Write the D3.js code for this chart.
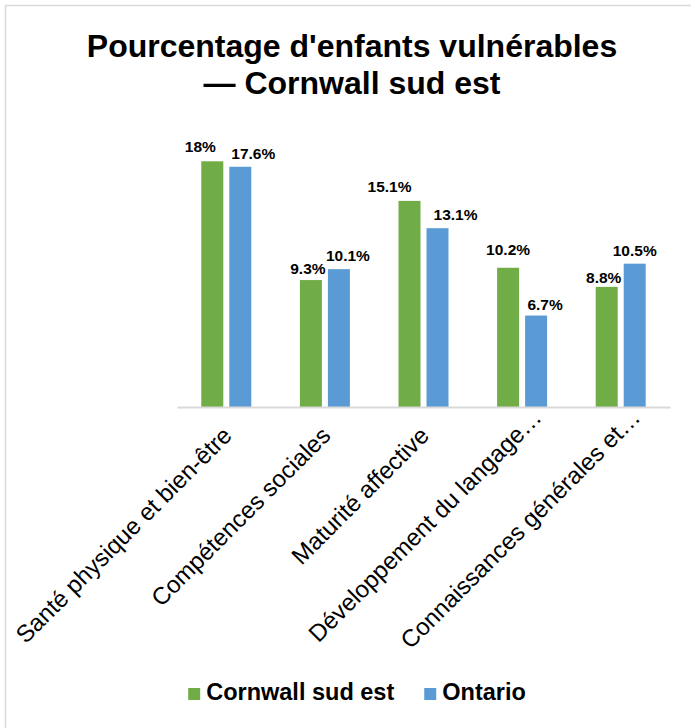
<!doctype html>
<html lang="fr">
<head>
  <meta charset="utf-8">
  <style>
    body { margin: 0; background: #fff; }
    text { font-family: "Liberation Sans", Arial, sans-serif; fill: #000; }
  </style>
</head>
<body>
  <div id="chart"></div>
  <script src="https://d3js.org/d3.v7.min.js"></script>
  <script>
    // Data
    var categories = [
      "Santé physique et bien-être",
      "Compétences sociales",
      "Maturité affective",
      "Développement du langage…",
      "Connaissances générales et…"
    ];
    var series = ["Cornwall sud est", "Ontario"];
    var cornwall = [18, 9.3, 15.1, 10.2, 8.8];
    var ontario = [17.6, 10.1, 13.1, 6.7, 10.5];
    var valueLabels = [
      ["18%", "9.3%", "15.1%", "10.2%", "8.8%"],
      ["17.6%", "10.1%", "13.1%", "6.7%", "10.5%"]
    ];
    // hand placed data labels (as in the original), nudges from centred
    var labelDx = [[-12, -3, -20, 0, -3], [13, 9, 18, 9, 0]];
    var labelGap = [[9, 6, 9, 13, 4], [8, 8, 8, 6, 8]];

    var colors = ["#70AD47", "#5B9BD5"];
    var values = [cornwall, ontario];

    var width = 691, height = 728;
    var svg = d3.select("#chart").append("svg")
      .attr("width", width)
      .attr("height", height);

    // chart frame
    svg.append("rect")
      .attr("x", 5.5).attr("y", 5.5)
      .attr("width", 720).attr("height", 760)
      .attr("fill", "none")
      .attr("stroke", "#d9d9d9")
      .attr("stroke-width", 1.5);

    // title
    var title = svg.append("text")
      .attr("text-anchor", "middle")
      .style("font-size", "32px")
      .style("font-weight", "bold");
    title.append("tspan").attr("x", 352).attr("y", 57).text("Pourcentage d'enfants vulnérables");
    title.append("tspan").attr("x", 352).attr("y", 94).text("— Cornwall sud est");

    // scales
    var plot = {left: 177, right: 670, top: 134, bottom: 407};
    var x0 = d3.scaleBand().domain(categories).range([plot.left, plot.right]);
    var bw = x0.bandwidth();
    var x1 = d3.scaleBand().domain(series)
      .range([bw / 2 - 25, bw / 2 + 25])
      .paddingInner(6 / 28);
    var y = d3.scaleLinear().domain([0, 20]).range([plot.bottom, plot.top]);

    // bars
    series.forEach(function(s, si) {
      svg.append("g").selectAll("rect")
        .data(values[si])
        .enter().append("rect")
        .attr("x", function(d, i) { return x0(categories[i]) + x1(s); })
        .attr("y", function(d) { return y(d); })
        .attr("width", x1.bandwidth())
        .attr("height", function(d) { return y(0) - y(d); })
        .attr("fill", colors[si]);

      svg.append("g").selectAll("text")
        .data(values[si])
        .enter().append("text")
        .attr("x", function(d, i) { return x0(categories[i]) + x1(s) + x1.bandwidth() / 2 + labelDx[si][i]; })
        .attr("y", function(d, i) { return y(d) - labelGap[si][i]; })
        .attr("text-anchor", "middle")
        .style("font-size", "15.5px")
        .style("font-weight", "bold")
        .text(function(d, i) { return valueLabels[si][i]; });
    });

    // x axis
    var xAxis = svg.append("g")
      .attr("transform", "translate(0," + plot.bottom + ")")
      .call(d3.axisBottom(x0).tickSize(0).tickPadding(0));
    xAxis.select(".domain").attr("stroke", "#d9d9d9").attr("stroke-width", 2);
    xAxis.selectAll(".tick text")
      .attr("y", 0).attr("dy", 0)
      .style("font-size", "24px")
      .style("font-family", "'Liberation Sans', Arial, sans-serif")
      .attr("fill", "#000")
      .attr("text-anchor", "end")
      .attr("transform", function(d) {
        // truncated labels sit further up/right, as Excel draws them
        var cut = /…$/.test(d) ? 1 : 0;
        return "translate(" + (7 + cut * 14) + "," + (30 - cut * 18) + ") rotate(-45)";
      });

    // legend
    var legend = svg.append("g");
    var lx = 0;
    series.forEach(function(s, i) {
      var item = legend.append("g").attr("transform", "translate(" + lx + ",0)");
      item.append("rect")
        .attr("x", 0).attr("y", -12)
        .attr("width", 12).attr("height", 12)
        .attr("fill", colors[i]);
      var t = item.append("text")
        .attr("x", 18).attr("y", 0)
        .style("font-size", "23.5px")
        .style("font-weight", "bold")
        .text(s);
      lx += 18 + t.node().getComputedTextLength() + 30;
    });
    var lw = lx - 30;
    legend.attr("transform", "translate(" + (357 - lw / 2) + ",700)");
  </script>
</body>
</html>
